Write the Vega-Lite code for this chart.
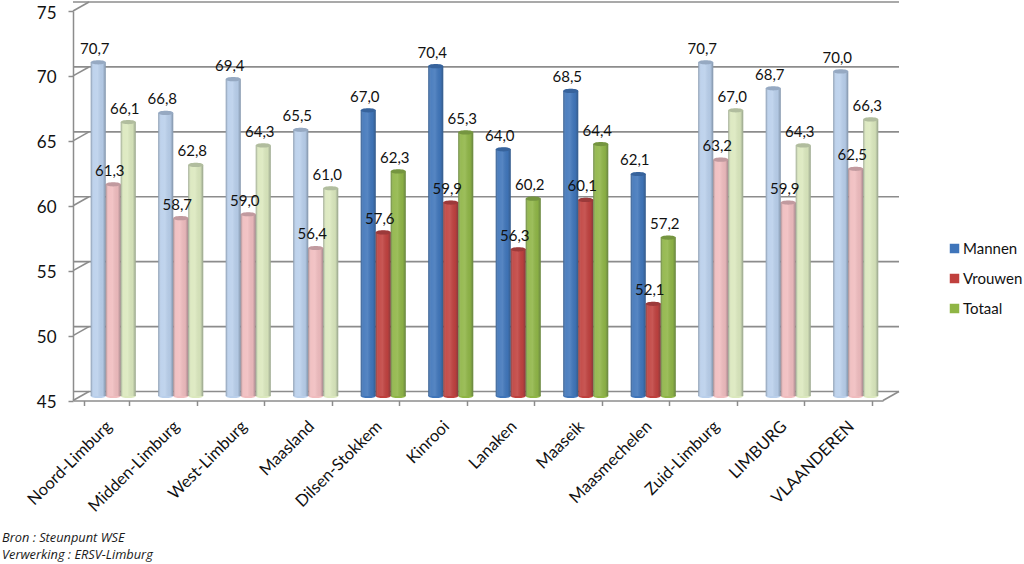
{
"$schema":"https://vega.github.io/schema/vega-lite/v6.json",
"autosize":"none","width":810,"height":389.5,
"padding":{"left":73,"top":11,"right":141,"bottom":163.5},
"background":"white",
"config":{"view":{"stroke":null},"font":"Lato"},
"title":{"text":["Bron : Steunpunt WSE","Verwerking : ERSV-Limburg"],"orient":"bottom","anchor":"start","frame":"group","dx":-71,"offset":17,"fontSize":12.8,"fontStyle":"italic","fontWeight":"normal","lineHeight":17,"color":"#1a1a1a","font":"Open Sans"},
"datasets":{
"wall":[{"v":45,"back":45.69},{"v":50,"back":50.69},{"v":55,"back":55.69},{"v":60,"back":60.69},{"v":65,"back":65.69},{"v":70,"back":70.69},{"v":75,"back":75.69}],
"cijfers":[
{"gebied":"Noord-Limburg","niveau":"regio","reeks":"Mannen","waarde":70.7},{"gebied":"Noord-Limburg","niveau":"regio","reeks":"Vrouwen","waarde":61.3},{"gebied":"Noord-Limburg","niveau":"regio","reeks":"Totaal","waarde":66.1},
{"gebied":"Midden-Limburg","niveau":"regio","reeks":"Mannen","waarde":66.8},{"gebied":"Midden-Limburg","niveau":"regio","reeks":"Vrouwen","waarde":58.7},{"gebied":"Midden-Limburg","niveau":"regio","reeks":"Totaal","waarde":62.8},
{"gebied":"West-Limburg","niveau":"regio","reeks":"Mannen","waarde":69.4},{"gebied":"West-Limburg","niveau":"regio","reeks":"Vrouwen","waarde":59.0},{"gebied":"West-Limburg","niveau":"regio","reeks":"Totaal","waarde":64.3},
{"gebied":"Maasland","niveau":"regio","reeks":"Mannen","waarde":65.5},{"gebied":"Maasland","niveau":"regio","reeks":"Vrouwen","waarde":56.4},{"gebied":"Maasland","niveau":"regio","reeks":"Totaal","waarde":61.0},
{"gebied":"Dilsen-Stokkem","niveau":"gemeente","reeks":"Mannen","waarde":67.0},{"gebied":"Dilsen-Stokkem","niveau":"gemeente","reeks":"Vrouwen","waarde":57.6},{"gebied":"Dilsen-Stokkem","niveau":"gemeente","reeks":"Totaal","waarde":62.3},
{"gebied":"Kinrooi","niveau":"gemeente","reeks":"Mannen","waarde":70.4},{"gebied":"Kinrooi","niveau":"gemeente","reeks":"Vrouwen","waarde":59.9},{"gebied":"Kinrooi","niveau":"gemeente","reeks":"Totaal","waarde":65.3},
{"gebied":"Lanaken","niveau":"gemeente","reeks":"Mannen","waarde":64.0},{"gebied":"Lanaken","niveau":"gemeente","reeks":"Vrouwen","waarde":56.3},{"gebied":"Lanaken","niveau":"gemeente","reeks":"Totaal","waarde":60.2},
{"gebied":"Maaseik","niveau":"gemeente","reeks":"Mannen","waarde":68.5},{"gebied":"Maaseik","niveau":"gemeente","reeks":"Vrouwen","waarde":60.1},{"gebied":"Maaseik","niveau":"gemeente","reeks":"Totaal","waarde":64.4},
{"gebied":"Maasmechelen","niveau":"gemeente","reeks":"Mannen","waarde":62.1},{"gebied":"Maasmechelen","niveau":"gemeente","reeks":"Vrouwen","waarde":52.1},{"gebied":"Maasmechelen","niveau":"gemeente","reeks":"Totaal","waarde":57.2},
{"gebied":"Zuid-Limburg","niveau":"regio","reeks":"Mannen","waarde":70.7},{"gebied":"Zuid-Limburg","niveau":"regio","reeks":"Vrouwen","waarde":63.2},{"gebied":"Zuid-Limburg","niveau":"regio","reeks":"Totaal","waarde":67.0},
{"gebied":"LIMBURG","niveau":"regio","reeks":"Mannen","waarde":68.7},{"gebied":"LIMBURG","niveau":"regio","reeks":"Vrouwen","waarde":59.9},{"gebied":"LIMBURG","niveau":"regio","reeks":"Totaal","waarde":64.3},
{"gebied":"VLAANDEREN","niveau":"regio","reeks":"Mannen","waarde":70.0},{"gebied":"VLAANDEREN","niveau":"regio","reeks":"Vrouwen","waarde":62.5},{"gebied":"VLAANDEREN","niveau":"regio","reeks":"Totaal","waarde":66.3}
]},
"layer":[
{"data":{"name":"wall"},"mark":{"type":"rule","color":"#8c8c8c","strokeWidth":1.6,"xOffset":16,"yOffset":-9},
 "encoding":{"y":{"field":"v","type":"quantitative","scale":{"domain":[45,75],"zero":false,"nice":false},"axis":{"title":null,"values":[45,50,55,60,65,70,75],"grid":false,"domainColor":"#8c8c8c","domainWidth":1.5,"tickColor":"#8c8c8c","tickWidth":1.5,"tickSize":5,"labelFontSize":17,"labelColor":"#111","labelPadding":12,"labelFont":"Lato","labelOffset":2}}}},
{"data":{"name":"wall"},"mark":{"type":"rule","color":"#8c8c8c","strokeWidth":1.6},
 "encoding":{"x":{"value":0},"x2":{"value":16},"y":{"field":"v","type":"quantitative"},"y2":{"field":"back"}}},
{"data":{"name":"wall"},"transform":[{"filter":"datum.v == 45"}],"mark":{"type":"rule","color":"#8c8c8c","strokeWidth":1.6},
 "encoding":{"x":{"value":810},"x2":{"value":826},"y":{"field":"v","type":"quantitative"},"y2":{"field":"back"}}},
{"data":{"name":"cijfers"},
 "transform":[{"calculate":"datum.niveau == 'gemeente' ? datum.reeks : datum.reeks + ' licht'","as":"kleur"},{"calculate":"replace(format(datum.waarde,'.1f'),'.',',')","as":"label"}],
 "encoding":{
  "x":{"field":"gebied","type":"nominal","sort":null,"scale":{"paddingInner":0.3333,"paddingOuter":0.16667},
   "axis":{"title":null,"tickBand":"extent","domainColor":"#8c8c8c","domainWidth":1.5,"tickColor":"#8c8c8c","tickWidth":1.5,"tickSize":5,"labelAngle":-45,"labelAlign":"right","labelBaseline":"middle","labelFontSize":16.5,"labelColor":"#111","labelPadding":18,"labelOffset":2,"labelFont":"Lato"}},
  "xOffset":{"field":"reeks","type":"nominal","scale":{"domain":["Mannen","Vrouwen","Totaal"],"range":[6.5,51.5]}},
  "y":{"field":"waarde","type":"quantitative"}
 },
 "layer":[
  {"mark":{"type":"point","filled":true,"opacity":1,"size":225,"shape":"M-1,0 A1,0.28 0 1 0 1,0 A1,0.28 0 1 0 -1,0 Z","yOffset":-4.5},
   "encoding":{"y":{"datum":45,"type":"quantitative"},"color":{"field":"kleur","type":"nominal"}}},
  {"mark":{"type":"bar","yOffset":-4.5,"y2Offset":-4.5},
   "encoding":{"y2":{"datum":45},"color":{"field":"kleur","type":"nominal",
     "scale":{"domain":["Mannen","Vrouwen","Totaal","Mannen licht","Vrouwen licht","Totaal licht"],"range":["#3f75ba","#c0403d","#8fb545","#b9cfeb","#f0bcbe","#dbe8bd"]},
     "legend":{"values":["Mannen","Vrouwen","Totaal"],"title":null,"orient":"none","legendX":874,"legendY":230,"symbolType":"square","symbolSize":90,"symbolStrokeWidth":0,"labelFontSize":15,"labelColor":"#111","labelFont":"Lato","rowPadding":14,"labelOffset":1}}}},
  {"mark":{"type":"bar","yOffset":-4.5,"y2Offset":-4.5,"color":{"gradient":"linear","x1":0,"y1":0,"x2":1,"y2":0,"stops":[{"offset":0,"color":"rgba(40,50,60,0.38)"},{"offset":0.18,"color":"rgba(255,255,255,0.08)"},{"offset":0.45,"color":"rgba(255,255,255,0.12)"},{"offset":0.8,"color":"rgba(40,50,60,0.05)"},{"offset":1,"color":"rgba(40,50,60,0.38)"}]}},
   "encoding":{"y2":{"datum":45}}},
  {"mark":{"type":"point","filled":true,"opacity":1,"size":225,"shape":"M-1,0 A1,0.28 0 1 0 1,0 A1,0.28 0 1 0 -1,0 Z","yOffset":-4.5},
   "encoding":{"color":{"field":"kleur","type":"nominal"}}},
  {"mark":{"type":"point","filled":true,"opacity":0.22,"color":"#1a2530","size":225,"shape":"M-1,0 A1,0.28 0 1 0 1,0 A1,0.28 0 1 0 -1,0 Z","yOffset":-4.5}},
  {"mark":{"type":"text","font":"Lato","fontSize":15,"color":"#111","align":"center","baseline":"middle","dx":-3.5,"yOffset":-18},
   "encoding":{"text":{"field":"label"}}}
 ]}
]
}
